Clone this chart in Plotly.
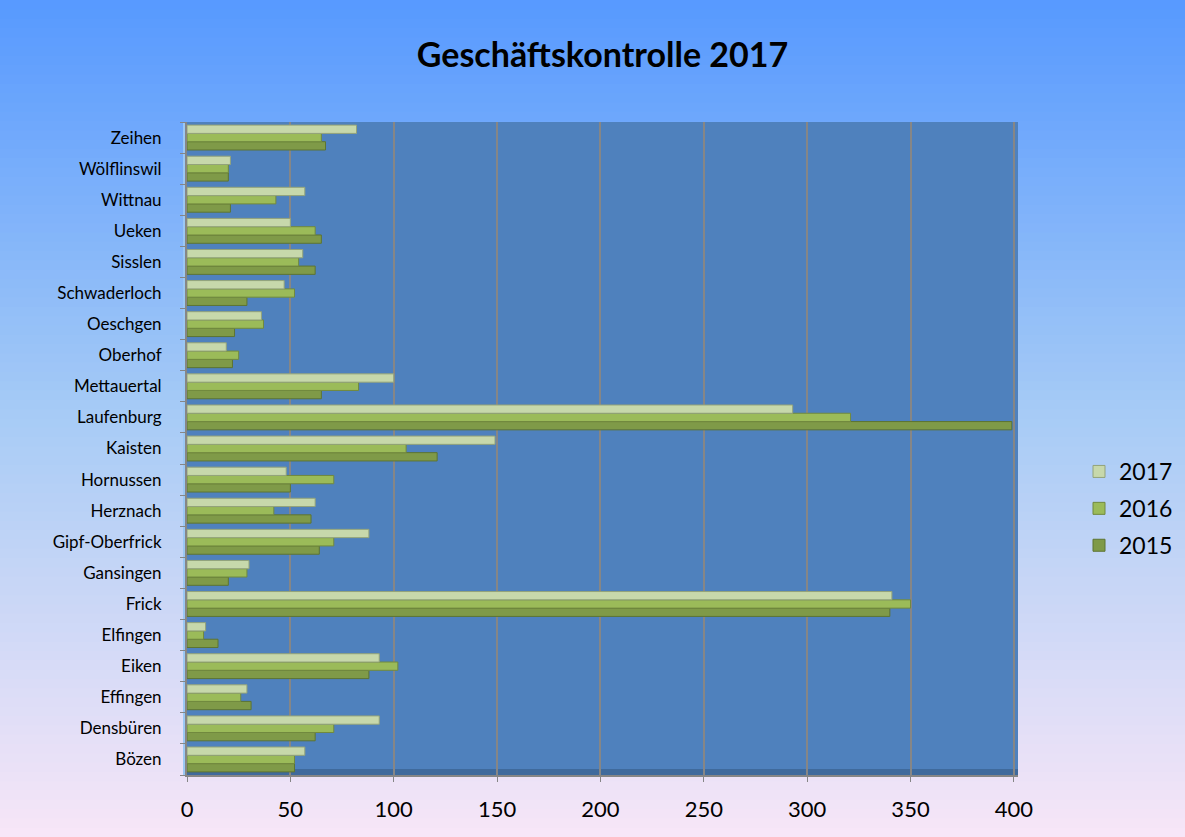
import plotly.graph_objects as go

categories = ["Bözen", "Densbüren", "Effingen", "Eiken", "Elfingen", "Frick", "Gansingen",
              "Gipf-Oberfrick", "Herznach", "Hornussen", "Kaisten", "Laufenburg", "Mettauertal",
              "Oberhof", "Oeschgen", "Schwaderloch", "Sisslen", "Ueken", "Wittnau", "Wölflinswil", "Zeihen"]

v2017 = [57, 93, 29, 93, 9, 341, 30, 88, 62, 48, 149, 293, 100, 19, 36, 47, 56, 50, 57, 21, 82]
v2016 = [52, 71, 26, 102, 8, 350, 29, 71, 42, 71, 106, 321, 83, 25, 37, 52, 54, 62, 43, 20, 65]
v2015 = [52, 62, 31, 88, 15, 340, 20, 64, 60, 50, 121, 399, 65, 22, 23, 29, 62, 65, 21, 20, 67]

series = [("2015", v2015, "#7f9a48", "#5d7432", 3),
          ("2016", v2016, "#9bbb59", "#71893e", 2),
          ("2017", v2017, "#c7d8ab", "#93a37a", 1)]

fig = go.Figure()
for name, vals, col, edge, rank in series:
    fig.add_trace(go.Bar(y=categories, x=vals, name=name, orientation="h", legendgroup=name,
                         legendrank=rank,
                         marker=dict(color=col, line=dict(color=edge, width=1))))

W, H = 1185, 837
L, R, T, B = 187, 1018, 122, 775

def px_x(p):
    return (p - L) / (R - L)

def px_y(p):
    return (B - p) / (B - T)

# background gradient strips
shapes = []
n = 90
top = (88, 154, 255)
mid = (168, 204, 246)
bot = (247, 230, 248)
for i in range(n):
    f = i / (n - 1)
    if f < 0.5:
        g = f / 0.5
        c = tuple(int(top[k] + (mid[k] - top[k]) * g) for k in range(3))
    else:
        g = (f - 0.5) / 0.5
        c = tuple(int(mid[k] + (bot[k] - mid[k]) * g) for k in range(3))
    y0 = H * i / n
    y1 = H * (i + 1) / n + 1
    shapes.append(dict(type="rect", xref="paper", yref="paper", layer="below",
                       x0=px_x(-2), x1=px_x(W + 2), y0=px_y(y1), y1=px_y(y0),
                       fillcolor="rgb(%d,%d,%d)" % c, line=dict(width=0)))
# plot wall
shapes.append(dict(type="rect", xref="paper", yref="paper", layer="below",
                   x0=0, x1=1, y0=0, y1=1, fillcolor="#4f81bd", line=dict(width=0)))
# floor band
shapes.append(dict(type="rect", xref="paper", yref="paper", layer="below",
                   x0=0, x1=1, y0=0, y1=px_y(769), fillcolor="#3f6a9c", line=dict(width=0)))
# left side wall strip
shapes.append(dict(type="rect", xref="paper", yref="paper", layer="below",
                   x0=px_x(183), x1=px_x(187), y0=0, y1=1, fillcolor="#9cc8f4", line=dict(width=0)))

fig.update_layout(
    width=W, height=H,
    margin=dict(l=L, r=W - R, t=T, b=H - B, pad=0, autoexpand=False),
    paper_bgcolor="#a9cdf5",
    plot_bgcolor="#4f81bd",
    barmode="group", bargap=0.2, bargroupgap=0.0,
    shapes=shapes,
    font=dict(family="Lato, Liberation Sans, sans-serif", color="black"),
    title=dict(text="<b>Geschäftskontrolle 2017</b>", x=0.5, xref="paper",
               y=1 - 55 / H, yanchor="middle", xanchor="center",
               font=dict(size=34, family="Lato, Liberation Sans, sans-serif", color="black")),
    legend=dict(x=px_x(1079), y=px_y(450), xanchor="left", yanchor="top",
                traceorder="grouped", font=dict(size=23), bgcolor="rgba(0,0,0,0)",
                itemwidth=30, tracegroupgap=4),
    xaxis=dict(range=[0, 402], tickvals=[0, 50, 100, 150, 200, 250, 300, 350, 400],
               showgrid=True, gridcolor="#868686", gridwidth=2,
               showline=True, linecolor="#868686", linewidth=2,
               ticks="outside", tickcolor="#868686", ticklen=5,
               tickfont=dict(size=22), zeroline=False, ticklabelstandoff=9),
    yaxis=dict(showgrid=False, showline=True, linecolor="#868686", linewidth=2,
               ticks="outside", tickson="boundaries", tickcolor="#868686", ticklen=5,
               tickfont=dict(size=17), ticklabelstandoff=20, range=[-0.5, 20.5]),
)

fig.write_html("out.html", config={"displayModeBar": False, "responsive": False},
               post_script="document.body.style.margin='0';document.body.style.padding='0';"
                           "document.body.style.overflow='hidden';"
                           "document.documentElement.style.overflow='hidden';")
